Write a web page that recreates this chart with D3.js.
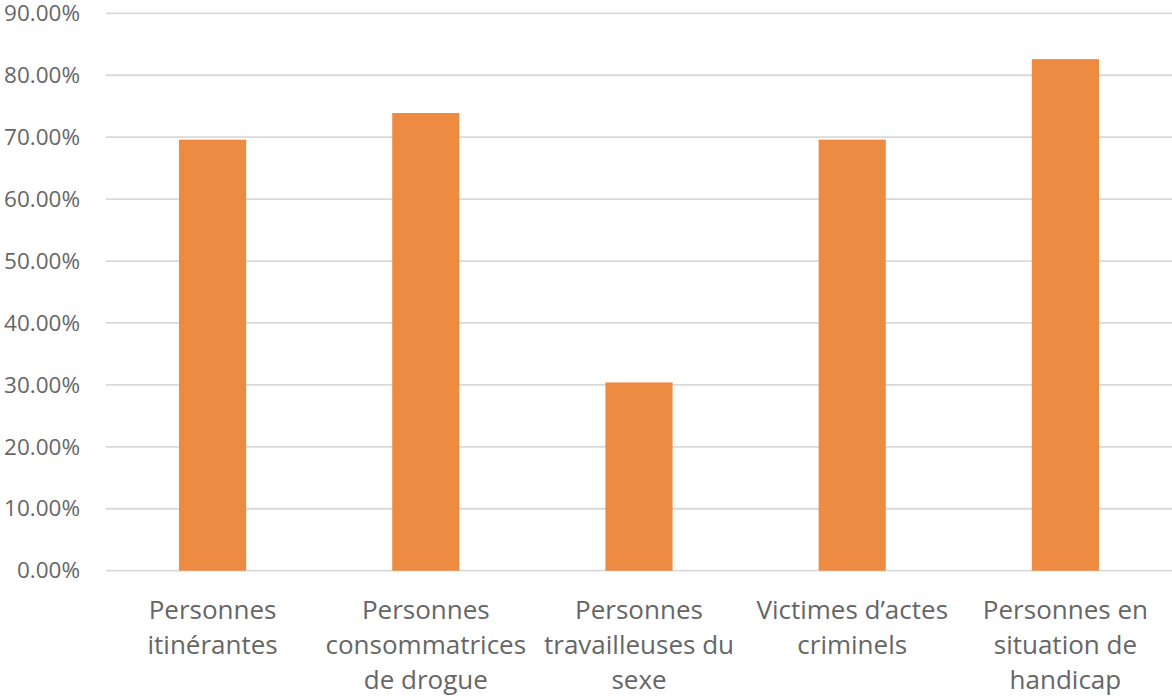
<!DOCTYPE html>
<html>
<head>
<meta charset="utf-8">
<script src="https://cdn.jsdelivr.net/npm/d3@7"></script>
<style>
  html, body { margin: 0; padding: 0; background: #fff; }
  svg { display: block; font-family: "Open Sans", sans-serif; }
</style>
</head>
<body>
<svg id="chart" width="1172" height="696"></svg>
<script>
// Share of each group (percent)
const categories = [
  "Personnes itinérantes",
  "Personnes consommatrices de drogue",
  "Personnes travailleuses du sexe",
  "Victimes d’actes criminels",
  "Personnes en situation de handicap"
];
const values = [69.6, 73.9, 30.4, 69.6, 82.6];
const yTicks = [0, 10, 20, 30, 40, 50, 60, 70, 80, 90];

const svg = d3.select("#chart");
const width = 1172, height = 696;
const margin = { left: 106, right: 0, top: 13.3, bottom: 125.3 };

const x = d3.scaleBand()
  .domain(categories)
  .range([margin.left, width - margin.right])
  .paddingInner(0.685)
  .paddingOuter(0.3425);

const y = d3.scaleLinear()
  .domain([0, 90])
  .range([height - margin.bottom, margin.top]);

// Gridlines
svg.append("g")
  .selectAll("line")
  .data(yTicks)
  .join("line")
  .attr("x1", margin.left)
  .attr("x2", width - margin.right)
  .attr("y1", d => y(d))
  .attr("y2", d => y(d))
  .attr("stroke", "#d9d9d9")
  .attr("stroke-width", 1.8);

// Y axis labels
const yAxis = d3.axisLeft(y)
  .tickValues(yTicks)
  .tickSize(0)
  .tickPadding(26)
  .tickFormat(d => d.toFixed(2) + "%");

svg.append("g")
  .attr("transform", `translate(${margin.left},0)`)
  .call(yAxis)
  .call(g => g.select(".domain").remove())
  .call(g => g.selectAll("text")
    .attr("fill", "#666666")
    .style("font-size", "22.5px")
    .style("font-family", "'Open Sans', sans-serif"));

// Bars
svg.append("g")
  .selectAll("rect")
  .data(values)
  .join("rect")
  .attr("x", (d, i) => x(categories[i]))
  .attr("width", x.bandwidth())
  .attr("y", d => y(d))
  .attr("height", d => y(0) - y(d))
  .attr("fill", "#ec8b41");

// Category labels with word wrapping
const xAxis = d3.axisBottom(x).tickSize(0).tickPadding(0);
const xg = svg.append("g")
  .attr("transform", `translate(0,${y(0)})`)
  .call(xAxis)
  .call(g => g.select(".domain").remove());

xg.selectAll("text")
  .attr("fill", "#666666")
  .style("font-size", "26px")
  .style("font-family", "'Open Sans', sans-serif")
  .each(function(d) {
    const text = d3.select(this);
    const words = d.split(/\s+/);
    const maxW = x.step();
    text.text(null).attr("y", 0).attr("dy", null);
    let lines = [];
    let line = [];
    const probe = text.append("tspan");
    words.forEach(w => {
      const trial = line.concat([w]).join(" ");
      probe.text(trial);
      if (probe.node().getComputedTextLength() > maxW && line.length) {
        lines.push(line.join(" "));
        line = [w];
      } else {
        line.push(w);
      }
    });
    lines.push(line.join(" "));
    probe.remove();
    lines.forEach((l, i) => {
      text.append("tspan")
        .attr("x", 0)
        .attr("y", 48.5 + i * 35)
        .text(l);
    });
  });
</script>
</body>
</html>
